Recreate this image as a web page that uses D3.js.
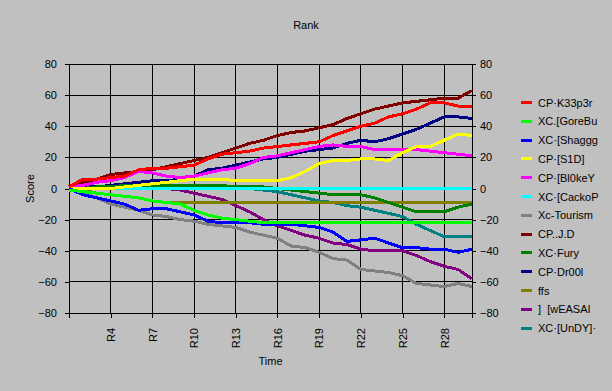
<!DOCTYPE html>
<html><head><meta charset="utf-8">
<script src="https://cdn.jsdelivr.net/npm/d3@7"></script>
<style>
body{margin:0;background:#c0c0c0}
svg{display:block}
text{font-family:"Liberation Sans",Arial,sans-serif;font-size:11px;fill:#000}
</style>
</head><body><svg id="c" width="612" height="391"></svg>
<script>
const rounds = d3.range(1, 31).map(i => "R" + i);
const xTickLabels = ["R4","R7","R10","R13","R16","R19","R22","R25","R28"];
const yTicks = [-80,-60,-40,-20,0,20,40,60,80];
const seriesNames = ["CP·K33p3r","XC.[GoreBu","XC·[Shaggg","CP·[S1D]","CP·[Bl0keY","XC·[CackoP","Xc-Tourism","CP..J.D","XC·Fury","CP·Dr00l","ffs","]  [wEASAI","XC·[UnDY]·"];
const seriesColors = ["#ff0000","#00ff00","#0000ff","#ffff00","#ff00ff","#00ffff","#808080","#800000","#008000","#000080","#808000","#800080","#008080"];

const k33p3r  = [1,6,6,7,8,12,13,13,14,15,19,22,23,24,26,27,28,29,30,34,37,40,42,46,48,51,55,55,53,53];
const goreBu  = [-1,-2,-3,-4,-5,-6,-8,-9,-10,-14,-17,-19,-20,-21,-22,-22,-22,-22,-22,-22,-22,-22,-22,-22,-22,-22,-22,-22,-22,-22];
const shaggg  = [0,-4,-6,-8,-10,-14,-13,-13,-15,-17,-21,-22,-22,-22,-23,-23,-23,-24,-25,-28,-34,-33,-32,-35,-38,-38,-39,-39,-41,-39];
const s1d     = [0,0,0,0,1,2,3,4,5,6,6,6,5,5,5,5,7,11,16,18,18,19,19,18,23,27,27,31,35,34];
const bl0keY  = [1,2,4,5,7,11,10,8,7,8,10,12,13,16,20,21,23,25,27,28,27,27,25,25,25,25,24,23,22,21];
const cackoP  = [0,0,0,0,0,0,0,0,0,0,0,0,0,0,0,0,0,0,0,0,0,0,0,0,0,0,0,0,0,0];
const tourism = [0,-3,-6,-10,-12,-14,-17,-18,-20,-21,-23,-24,-25,-28,-30,-32,-37,-38,-41,-45,-46,-52,-53,-54,-56,-61,-62,-63,-61,-63];
const jd      = [1,4,6,9,10,11,12,14,16,18,20,23,26,29,31,34,36,37,39,41,45,48,51,53,55,56,57,58,58,63];
const fury    = [0,0,1,1,2,2,2,2,2,2,2,2,1,1,1,0,-1,-2,-3,-4,-4,-4,-6,-9,-12,-15,-15,-15,-12,-10];
const dr00l   = [0,1,1,2,3,4,5,5,6,8,12,13,15,17,19,20,22,24,25,26,29,31,30,32,35,38,42,46,46,45];
const ffs     = [0,-1,-3,-4,-5,-6,-8,-9,-9,-9,-9,-9,-9,-9,-9,-9,-9,-9,-9,-9,-9,-9,-9,-9,-9,-9,-9,-9,-9,-9];
const weasai  = [0,0,0,0,0,0,0,0,-1,-3,-5,-7,-11,-15,-20,-24,-27,-30,-32,-35,-36,-39,-40,-40,-40,-43,-47,-50,-52,-58];
const undy    = [0,0,0,0,0,0,0,0,0,0,0,0,0,0,-1,-2,-4,-6,-8,-9,-11,-12,-14,-16,-18,-23,-27,-31,-31,-31];

const seriesValues = [k33p3r,goreBu,shaggg,s1d,bl0keY,cackoP,tourism,jd,fury,dr00l,ffs,weasai,undy];

const svg = d3.select("#c");
const L = 69, R = 472, T = 64, B = 313;
const x = d3.scalePoint().domain(rounds).range([L, R]);
const y = d3.scaleLinear().domain([-80, 80]).range([B, T]);

// grid
const grid = svg.append("g").attr("shape-rendering","crispEdges");
grid.selectAll("line.h").data(yTicks).join("line")
  .attr("x1", L).attr("x2", R).attr("y1", d => y(d)).attr("y2", d => y(d))
  .attr("stroke", "#000").attr("stroke-width", 1);
grid.selectAll("line.v").data(xTickLabels).join("line")
  .attr("x1", d => x(d)).attr("x2", d => x(d)).attr("y1", T).attr("y2", B)
  .attr("stroke", "#000").attr("stroke-width", 1);

// axes
const yl = svg.append("g").attr("transform", `translate(${L},0)`)
  .call(d3.axisLeft(y).tickValues(yTicks).tickSize(4).tickPadding(8).tickFormat(d3.format("d")));
const yr = svg.append("g").attr("transform", `translate(${R},0)`)
  .call(d3.axisRight(y).tickValues(yTicks).tickSize(4).tickPadding(4).tickFormat(d3.format("d")));
const xb = svg.append("g").attr("transform", `translate(0,${B})`)
  .call(d3.axisBottom(x).tickValues(["R1"].concat(xTickLabels).concat(["R30"])).tickSize(5)
    .tickFormat(d => xTickLabels.includes(d) ? d : ""));
xb.selectAll("text").attr("transform","rotate(-90)").attr("text-anchor","end")
  .attr("x",-15).attr("y",0).attr("dy","0.35em");
[yl, yr, xb].forEach(g => {
  g.attr("shape-rendering","crispEdges");
  g.selectAll("path,line").attr("stroke","#000");
  g.selectAll("text").attr("font-size",11).attr("font-family","'Liberation Sans',Arial,sans-serif").attr("fill","#000");
  g.select(".domain").attr("d", null);
});
svg.append("line").attr("x1",L).attr("x2",L).attr("y1",T).attr("y2",B).attr("stroke","#000").attr("shape-rendering","crispEdges");
svg.append("line").attr("x1",R).attr("x2",R).attr("y1",T).attr("y2",B).attr("stroke","#000").attr("shape-rendering","crispEdges");

// series (first series drawn on top)
const line = d3.line().x((d, i) => x(rounds[i])).y(d => y(d));
const order = d3.range(seriesValues.length).reverse();
svg.append("g").selectAll("path").data(order).join("path")
  .attr("d", i => line(seriesValues[i])).attr("fill","none")
  .attr("stroke", i => seriesColors[i]).attr("stroke-width", 3)
  .attr("stroke-linejoin","round").attr("shape-rendering","crispEdges");

// titles
svg.append("text").attr("x", 306).attr("y", 29).attr("text-anchor","middle").text("Rank");
svg.append("text").attr("x", (L + R) / 2).attr("y", 365).attr("text-anchor","middle").text("Time");
svg.append("text").attr("transform", `translate(34,${y(0)}) rotate(-90)`).attr("text-anchor","middle").text("Score");

// legend
const lg = svg.append("g").selectAll("g").data(seriesNames).join("g")
  .attr("transform", (d, i) => `translate(0,${102.5 + i * 18.8})`);
lg.append("line").attr("x1", 521).attr("x2", 532).attr("y1", 0).attr("y2", 0)
  .attr("stroke", (d, i) => seriesColors[i]).attr("stroke-width", 3).attr("shape-rendering","crispEdges");
lg.append("text").attr("x", 538).attr("y", 4).style("white-space","pre").text(d => d);
</script>
</body></html>
